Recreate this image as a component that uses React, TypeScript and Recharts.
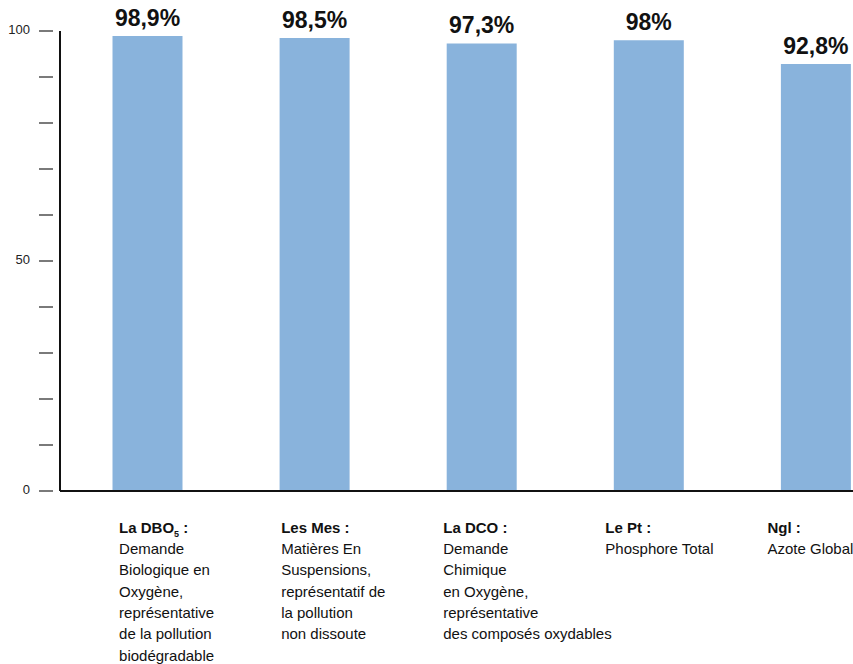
import { BarChart, Bar, XAxis, YAxis, LabelList } from "recharts";

const categories = ["La DBO₅ :", "Les Mes :", "La DCO :", "Le Pt :", "Ngl :"];

const descriptions = [
  ["Demande", "Biologique en", "Oxygène,", "représentative", "de la pollution", "biodégradable"],
  ["Matières En", "Suspensions,", "représentatif de", "la pollution", "non dissoute"],
  ["Demande", "Chimique", "en Oxygène,", "représentative", "des composés oxydables"],
  ["Phosphore Total"],
  ["Azote Global"],
];

const values = [98.9, 98.5, 97.3, 98, 92.8];

const yTicks = [0, 10, 20, 30, 40, 50, 60, 70, 80, 90, 100];
const yLabels = [0, 50, 100];

const FONT = "'Liberation Sans', Arial, Helvetica, sans-serif";

const data = categories.map((name, i) => ({
  name,
  value: values[i],
  desc: descriptions[i],
}));

function YTick(props: any) {
  const { y, payload } = props;
  return (
    <g>
      <line x1={39} x2={53} y1={y} y2={y} stroke="#222" strokeWidth={1.2} />
      {yLabels.includes(payload.value) && (
        <text x={30} y={y + 3} textAnchor="end" fontSize={13} fill="#222" fontFamily={FONT}>
          {payload.value}
        </text>
      )}
    </g>
  );
}

function XTick(props: any) {
  const { x, y, index } = props;
  const row = data[index];
  if (!row) return null;
  const left = x - 28 - 5 * index;
  const title = row.name;
  const sub = title.indexOf("₅");
  return (
    <g fontFamily={FONT} fill="#111">
      <text x={left} y={y + 34} fontSize={15} fontWeight="bold">
        {sub >= 0 ? (
          <>
            <tspan>{title.slice(0, sub)}</tspan>
            <tspan fontSize={9} dy={4}>5</tspan>
            <tspan dy={-4}>{title.slice(sub + 1)}</tspan>
          </>
        ) : (
          title
        )}
      </text>
      {row.desc.map((line, i) => (
        <text key={i} x={left} y={y + 55 + i * 21.3} fontSize={15}>
          {line}
        </text>
      ))}
    </g>
  );
}

export default function App() {
  return (
    <div
      style={{
        position: "absolute",
        top: 0,
        left: 0,
        width: 853,
        height: 664,
        overflow: "hidden",
        background: "#fff",
      }}
    >
      <BarChart
        width={899}
        height={664}
        data={data}
        margin={{ top: 31, right: 0, left: 0, bottom: 0 }}
      >
        <XAxis
          dataKey="name"
          height={173}
          padding={{ left: 3.5, right: 0 }}
          axisLine={{ stroke: "#111", strokeWidth: 2 }}
          tickLine={false}
          tick={<XTick />}
          interval={0}
        />
        <YAxis
          width={60}
          domain={[0, 100]}
          ticks={yTicks}
          interval={0}
          axisLine={{ stroke: "#111", strokeWidth: 2 }}
          tickLine={false}
          tick={<YTick />}
        />
        <Bar dataKey="value" fill="#89b3dc" barSize={70} isAnimationActive={false}>
          <LabelList
            dataKey="value"
            position="top"
            offset={10}
            formatter={(v: any) => `${String(v).replace(".", ",")}%`}
            style={{ fontSize: 23, fontWeight: "bold", fill: "#111", fontFamily: FONT }}
          />
        </Bar>
      </BarChart>
    </div>
  );
}
